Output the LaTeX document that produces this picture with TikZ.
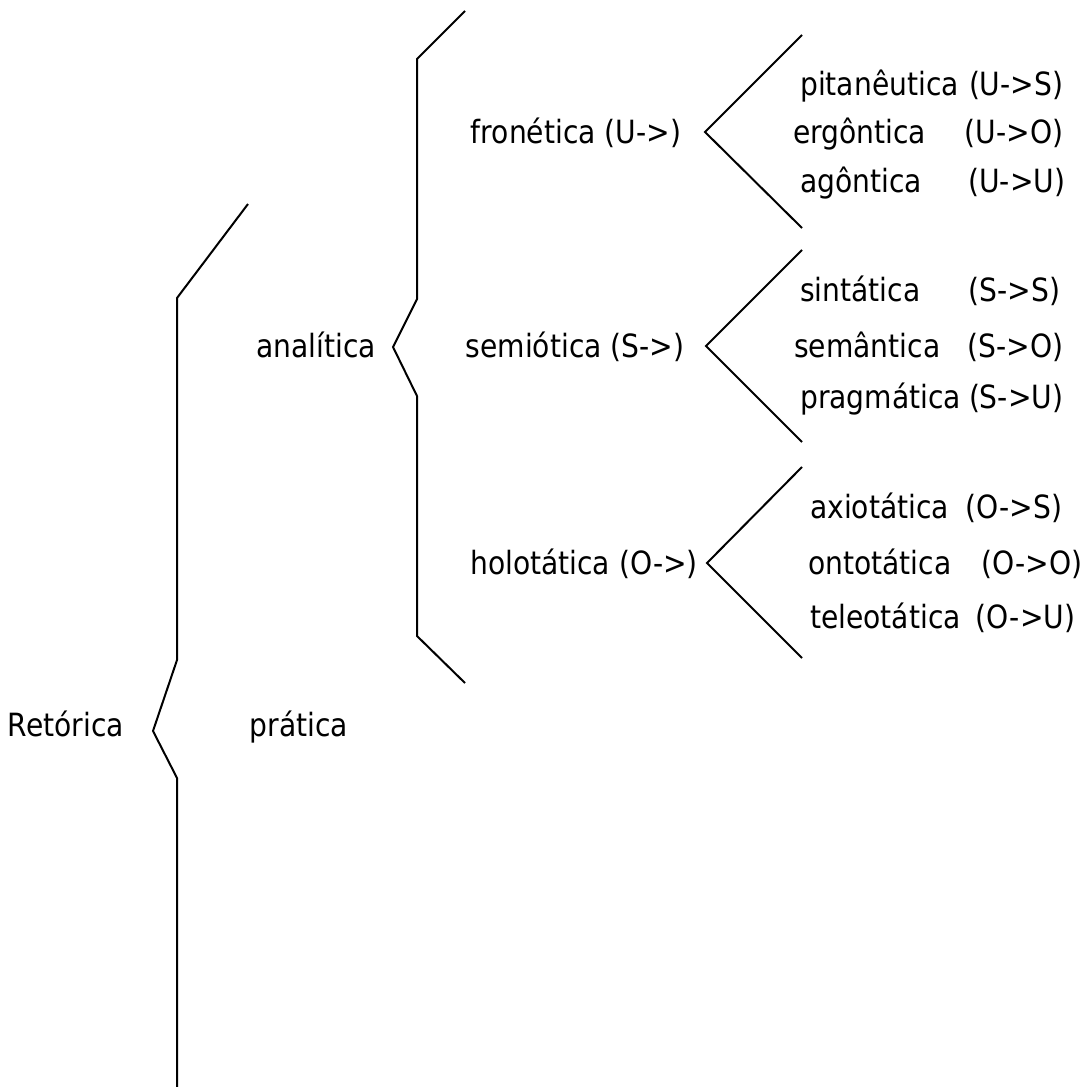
\documentclass[tikz,border=0pt]{standalone}
\usepackage{fontspec}
\setmainfont{DejaVu Sans}[FakeStretch=0.88]
\begin{document}
\begin{tikzpicture}[x=1pt,y=-1pt,
  lbl/.style={inner sep=0pt, font=\fontsize{32}{38}\selectfont},
  row/.style={lbl, anchor=base west},
  word/.style={lbl, anchor=base},
  brace/.style={line width=2pt, line join=miter}]
\useasboundingbox (0,0) rectangle (1087,1087);
% left labels
\node[word] (retorica) at (66,736) {Retórica};
\node[word] (pratica) at (299,736) {prática};
\node[word] (analitica) at (316,357) {analítica};
\node[word] (fronetica) at (576,143) {fronética (U->)};
\node[word] (semiotica) at (575,357) {semiótica (S->)};
\node[word] (holotatica) at (584,574) {holotática (O->)};
% rows
\node[row] (r1) at (800,95)  {\hbox to 263pt{pitanêutica\hfill(U->S)}};
\node[row] (r2) at (793,143) {\hbox to 270pt{ergôntica\hfill(U->O)}};
\node[row] (r3) at (800,192) {\hbox to 265pt{agôntica\hfill(U->U)}};
\node[row] (r4) at (800,301) {\hbox to 260pt{sintática\hfill(S->S)}};
\node[row] (r5) at (794,357) {\hbox to 269pt{semântica\hfill(S->O)}};
\node[row] (r6) at (800,408) {\hbox to 263pt{pragmática\hfill(S->U)}};
\node[row] (r7) at (810,518) {\hbox to 252pt{axiotática\hfill(O->S)}};
\node[row] (r8) at (808,574) {\hbox to 274pt{ontotática\hfill(O->O)}};
\node[row] (r9) at (810,628) {\hbox to 265pt{teleotática\hfill(O->U)}};
% brace points
\coordinate (a1) at (248,204); \coordinate (a2) at (177,298);
\coordinate (a3) at (177,660); \coordinate (a4) at (153,731);
\coordinate (a5) at (177,778); \coordinate (a6) at (177,1087);
\coordinate (b1) at (465,11);  \coordinate (b2) at (417,59);
\coordinate (b3) at (417,299); \coordinate (b4) at (393,347);
\coordinate (b5) at (417,396); \coordinate (b6) at (417,636);
\coordinate (b7) at (465,683);
\coordinate (f1) at (802,35);  \coordinate (f2) at (705,132); \coordinate (f3) at (802,228);
\coordinate (s1) at (802,250); \coordinate (s2) at (706,346); \coordinate (s3) at (802,442);
\coordinate (h1) at (802,467); \coordinate (h2) at (707,563); \coordinate (h3) at (802,658);
\draw[brace] (a1) -- (a2) -- (a3) -- (a4) -- (a5) -- (a6);
\draw[brace] (b1) -- (b2) -- (b3) -- (b4) -- (b5) -- (b6) -- (b7);
\draw[brace] (f1) -- (f2) -- (f3);
\draw[brace] (s1) -- (s2) -- (s3);
\draw[brace] (h1) -- (h2) -- (h3);
\end{tikzpicture}
\end{document}
